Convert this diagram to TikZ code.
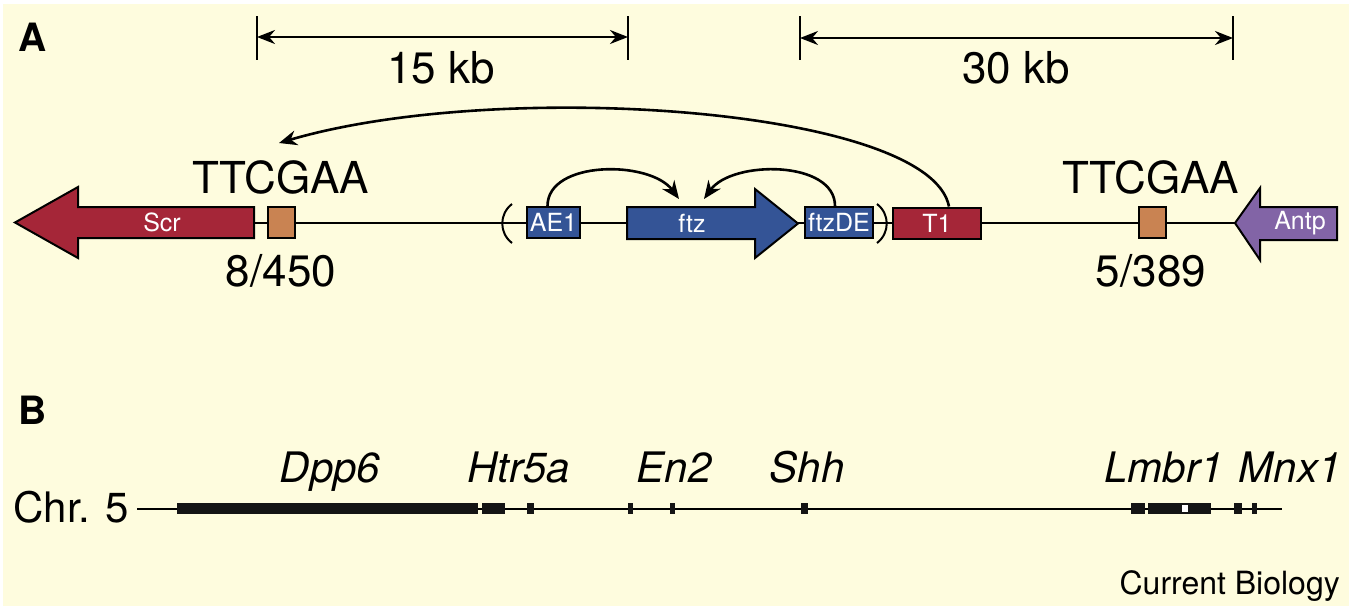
\documentclass[tikz,border=0pt]{standalone}
\usepackage{fontspec}
\setmainfont{TeX Gyre Heros}
\usetikzlibrary{arrows.meta}
\definecolor{bgyellow}{RGB}{254,252,222}
\definecolor{genered}{RGB}{165,38,56}
\definecolor{geneblue}{RGB}{52,84,150}
\definecolor{genepurple}{RGB}{130,100,166}
\definecolor{motiforange}{RGB}{201,131,82}
\tikzset{
  gbox/.style={draw=black, line width=2pt, inner sep=0pt, minimum height=31, text=white, font=\fontsize{25}{25}\selectfont},
  gname/.style={inner sep=0pt, text=white, font=\fontsize{25}{25}\selectfont},
  garrow/.style={draw=black, line width=2pt, line join=miter},
  motif/.style={draw=black, line width=2pt, fill=motiforange, minimum width=27, minimum height=31, inner sep=0pt},
  bigtext/.style={inner sep=0pt, anchor=base, font=\fontsize{44}{44}\selectfont},
  locus/.style={inner sep=0pt, anchor=base, font=\fontsize{42}{42}\selectfont\itshape},
  panel/.style={inner sep=0pt, anchor=base west, font=\fontsize{39}{39}\selectfont\bfseries},
  loop/.style={line width=2.6pt, -{Stealth[length=18pt,width=15pt]}},
  span/.style={line width=2.2pt, {Stealth[length=18pt,width=14pt]}-{Stealth[length=18pt,width=14pt]}},
}
\begin{document}
\begin{tikzpicture}[x=1pt,y=-1pt]
  \useasboundingbox (0,0) rectangle (1361,606);
  \fill[white] (0,0) rectangle (1361,606);
  \fill[bgyellow] (3,4) rectangle (1349,606);

  % panel A
  \node[panel] (pA) at (18,51) {A};
  % distance bars
  \coordinate (s1a) at (257,16); \coordinate (s1b) at (628,16);
  \coordinate (s2a) at (800,16); \coordinate (s2b) at (1233,16);
  \draw[line width=2pt] (s1a) -- ++(0,44) (s1b) -- ++(0,44) (s2a) -- ++(0,44) (s2b) -- ++(0,44);
  \draw[span] ([yshift=-21]s1a) -- ([yshift=-21]s1b);
  \draw[span] ([yshift=-22]s2a) -- ([yshift=-22]s2b);
  \node[bigtext] (kb15) at (441,83) {15 kb};
  \node[bigtext] (kb30) at (1016,83) {30 kb};

  % the locus line
  \draw[line width=2pt] (254,223) -- (1236,223);
  \draw[line width=2pt] (512,204) .. controls (499,214) and (499,233) .. (512,243);
  \draw[line width=2pt] (877,204) .. controls (890,214) and (890,233) .. (877,243);

  % genes
  \draw[garrow, fill=genered] (254,207) -- (78,207) -- (78,187) -- (15,222.5) -- (78,258) -- (78,238) -- (254,238) -- cycle;
  \node[gname] (Scr) at (162,222.5) {Scr};
  \draw[garrow, fill=geneblue] (627,207) -- (755,207) -- (755,189) -- (798,223.5) -- (755,258) -- (755,239) -- (627,239) -- cycle;
  \node[gname] (ftz) at (692,223) {ftz};
  \draw[garrow, fill=genepurple] (1337,207) -- (1260,207) -- (1260,188) -- (1235,223) -- (1260,260) -- (1260,240) -- (1337,240) -- cycle;
  \node[gname] (Antp) at (1300,223.5) {Antp};
  \node[gbox, fill=geneblue, minimum width=53] (AE1) at (553.5,222.5) {AE1};
  \node[gbox, fill=geneblue, minimum width=68] (ftzDE) at (839,222.5) {ftzDE};
  \node[gbox, fill=genered, minimum width=88] (T1) at (937,223) {T1};

  % TTCGAA sites
  \node[motif] (siteL) at (281.5,222.5) {};
  \node[motif] (siteR) at (1152.5,222.5) {};
  \node[bigtext] (seqL) at (281,193) {TTCGAA};
  \node[bigtext] (seqR) at (1151,193) {TTCGAA};
  \node[bigtext] (cntL) at (281,286) {8/450};
  \node[bigtext] (cntR) at (1151,286) {5/389};

  % enhancer loops
  \coordinate (ftzL) at (679,199); \coordinate (ftzR) at (704,199);
  \coordinate (scrT) at (279,143);
  \draw[loop] ([xshift=-6]AE1.north) .. controls ++(0,-46) and (650,160) .. (ftzL);
  \draw[loop] ([xshift=-4]ftzDE.north) .. controls ++(0,-46) and (732,160) .. (ftzR);
  \draw[loop] ([xshift=12]T1.north) .. controls (930,108) and (500,78) .. (scrT);

  % panel B
  \node[panel] (pB) at (18,424) {B};
  \node[inner sep=0pt, anchor=base east, font=\fontsize{42}{42}\selectfont] (chr) at (129,522) {Chr. 5};
  \draw[line width=2pt] (137,508.5) -- (1282,508.5);
  \foreach \a/\b in {177/478, 482/505, 527/534, 628/633, 670/675, 801/808, 1131/1145, 1148/1211, 1234/1242, 1252/1257}
    \fill[black!92] (\a,503) rectangle (\b,514);
  \fill[white] (1182,505) rectangle (1188,512);
  \node[locus] (Dpp6) at (330,482) {Dpp6};
  \node[locus] (Htr5a) at (519,482) {Htr5a};
  \node[locus] (En2) at (674,482) {En2};
  \node[locus] (Shh) at (807,482) {Shh};
  \node[locus] (Lmbr1) at (1164,482) {Lmbr1};
  \node[locus] (Mnx1) at (1290,482) {Mnx1};

  \node[inner sep=0pt, anchor=base east, font=\fontsize{32}{32}\selectfont] (jrnl) at (1340,594) {Current Biology};
\end{tikzpicture}
\end{document}
